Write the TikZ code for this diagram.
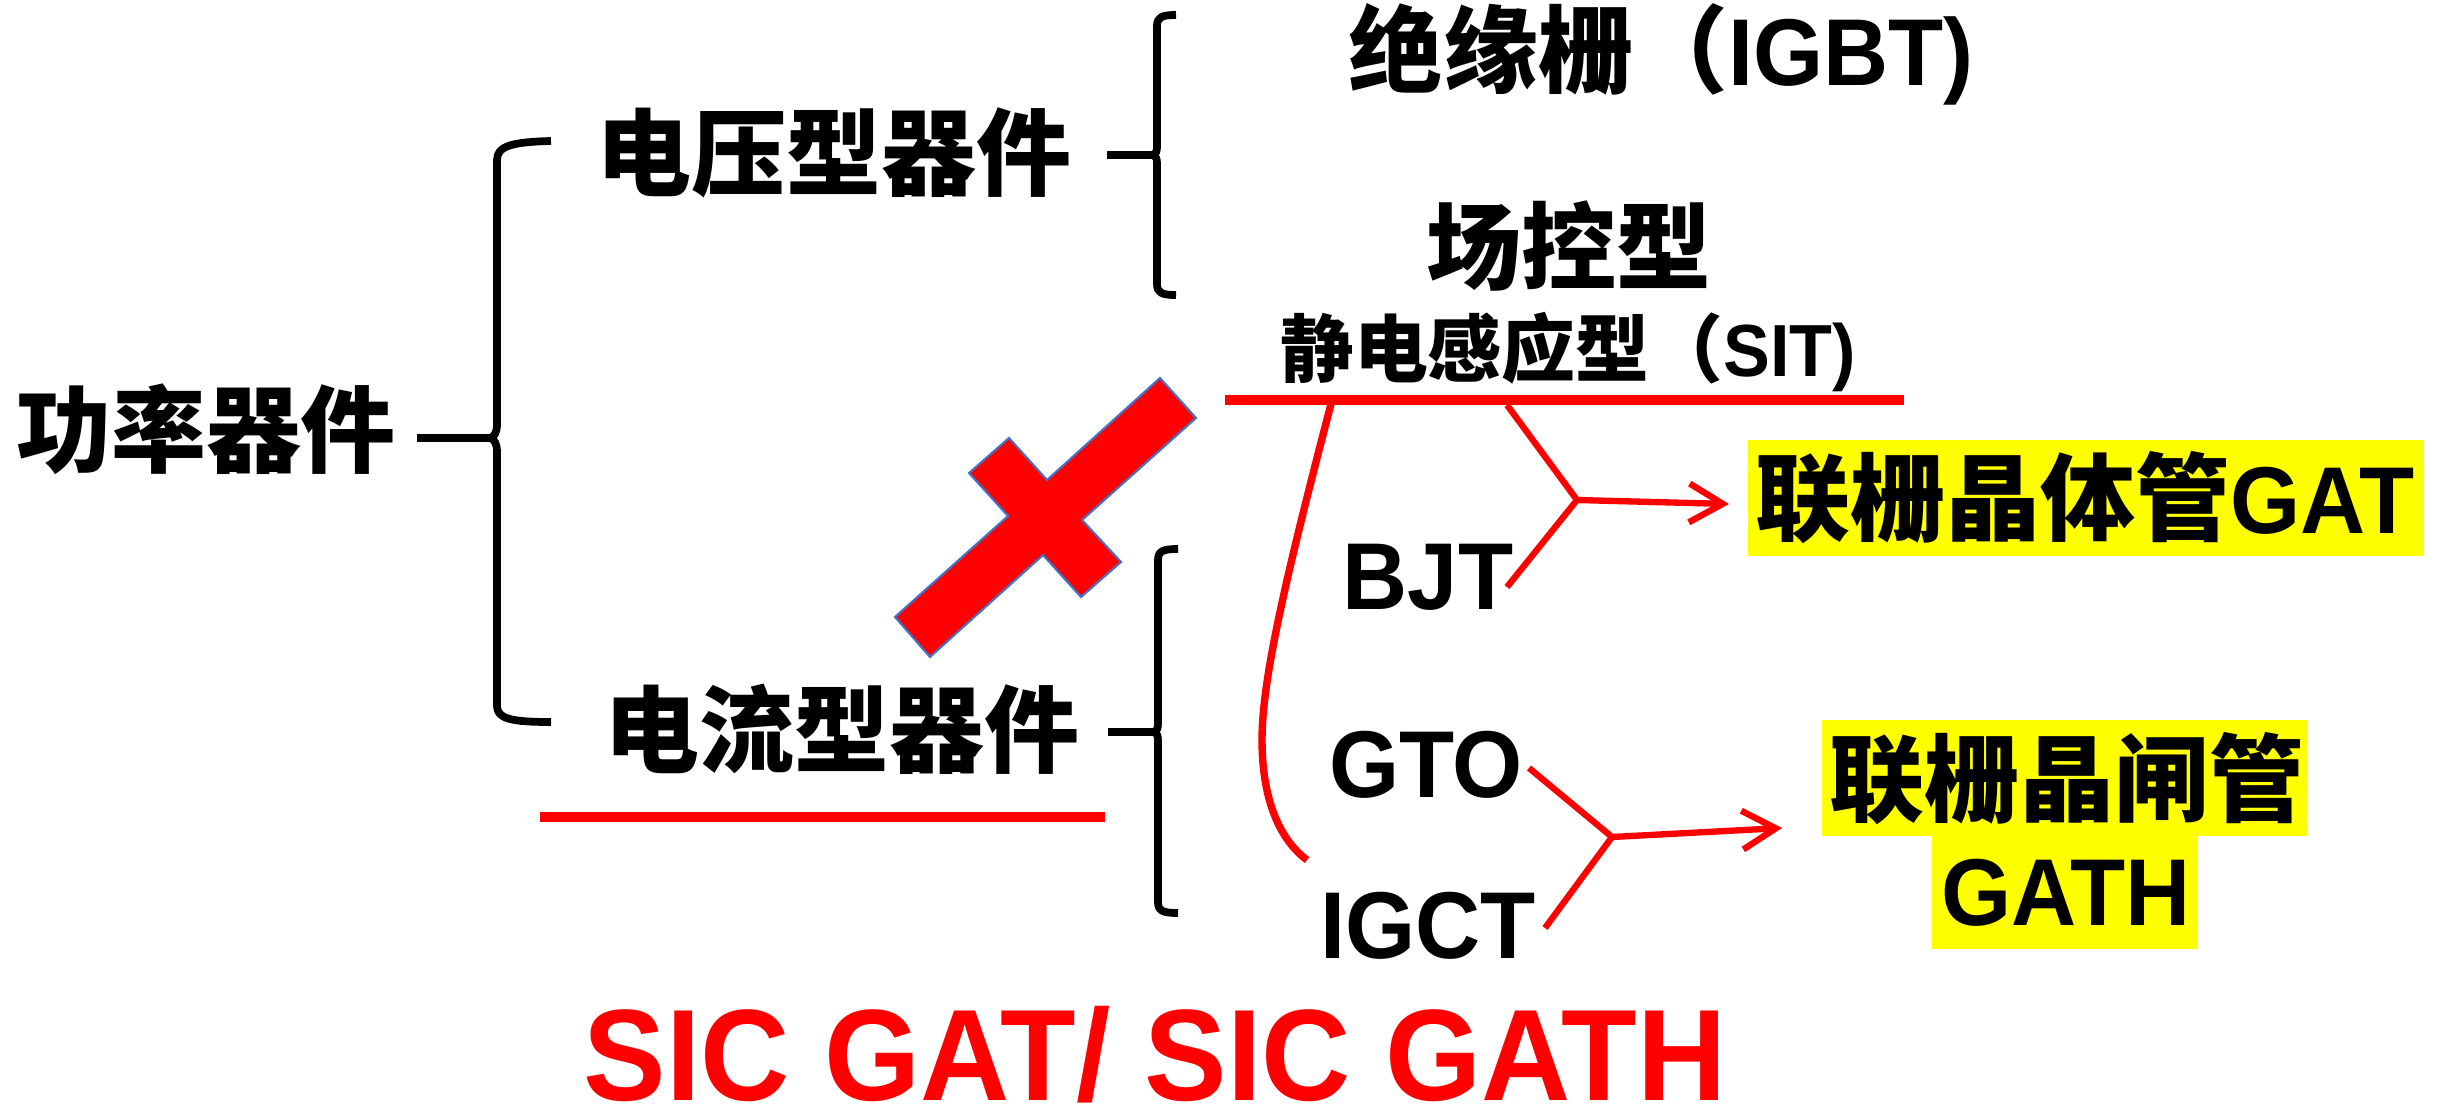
\documentclass[tikz,border=0pt]{standalone}
\usepackage{fontspec}
\usetikzlibrary{arrows.meta}
\newfontfamily\cjk{Noto Sans CJK SC}
\newfontfamily\lat{Liberation Sans}[FakeStretch=0.95]
\definecolor{xred}{RGB}{255,0,0}
\definecolor{xyel}{RGB}{255,255,0}
\definecolor{xblue}{RGB}{68,114,196}
\tikzset{
  txt/.style={inner sep=0pt, anchor=base, font=\fontsize{27}{30}\selectfont\bfseries},
  smalltxt/.style={inner sep=0pt, anchor=base, font=\fontsize{21}{24}\selectfont\bfseries},
  bigred/.style={inner sep=0pt, anchor=base, text=xred, font=\fontsize{37}{40}\selectfont\bfseries},
  brace/.style={draw=black, line width=2.2pt, line join=round},
  redthick/.style={draw=xred, line width=2.85pt},
  redthin/.style={draw=xred, line width=2.1pt},
  redarrow/.style={draw=xred, line width=1.8pt},
  hl/.style={fill=xyel, inner sep=0pt},
  crossshape/.style={fill=xred, draw=xblue, line width=0.6pt, line join=miter}
}
\begin{document}
\begin{tikzpicture}[x=0.01cm, y=-0.01cm]
\useasboundingbox (0,0) rectangle (2442,1112);

% highlight boxes
\node[hl, minimum width=6.76cm, minimum height=1.16cm] (gatbox) at (2086,498) {};
\node[hl, minimum width=4.85cm, minimum height=1.16cm] (gathbox1) at (2064.5,778) {};
\node[hl, minimum width=2.66cm, minimum height=1.14cm] (gathbox2) at (2065,892) {};

% texts
\node[txt] (power) at (206,465) {\cjk 功率器件};
\node[txt] (volt) at (834,188) {\cjk 电压型器件};
\node[txt] (igbt) at (1661,85) {{\cjk 绝缘栅（}{\lat IGBT)}};
\node[txt] (field) at (1569,282) {\cjk 场控型};
\node[smalltxt] (sit) at (1568,376) {{\cjk 静电感应型（}{\lat SIT)}};
\node[txt] (curr) at (842,765) {\cjk 电流型器件};
\node[txt] (bjt) at (1428,609) {\lat BJT};
\node[txt] (gto) at (1426,797) {\lat GTO};
\node[txt] (igct) at (1428,958) {\lat IGCT};
\node[txt] (gat) at (2085,533) {{\cjk 联栅晶体管}{\lat GAT}};
\node[txt] (gath1) at (2067,814) {\cjk 联栅晶闸管};
\node[txt] (gath2) at (2066,925) {\lat GATH};
\node[bigred] (sic) at (1155,1100) {\lat SIC GAT/ SIC GATH};

% brace 1
\coordinate (b1s) at (417,438);
\coordinate (b1t) at (490,438);
\draw[brace] (551,141) .. controls (512,142) and (497,146) .. (497,160) -- (497,424)
  .. controls (497,433) and (494,437) .. (b1t) .. controls (494,439) and (497,443) .. (497,452)
  -- (497,706) .. controls (497,719) and (512,722) .. (551,722);
\draw[brace] (b1s) -- (b1t);

% brace 2
\coordinate (b2s) at (1107,155);
\coordinate (b2t) at (1153,155);
\draw[brace] (1176,15) .. controls (1162,15) and (1157,17) .. (1157,26) -- (1157,146)
  .. controls (1157,152) and (1156,154) .. (b2t) .. controls (1156,156) and (1157,158) .. (1157,164)
  -- (1157,284) .. controls (1157,293) and (1162,295) .. (1176,295);
\draw[brace] (b2s) -- (b2t);

% brace 3
\coordinate (b3s) at (1108,732);
\coordinate (b3t) at (1154,732);
\draw[brace] (1178,549) .. controls (1163,549) and (1158,551) .. (1158,560) -- (1158,723)
  .. controls (1158,729) and (1157,731) .. (b3t) .. controls (1157,733) and (1158,735) .. (1158,741)
  -- (1158,902) .. controls (1158,911) and (1163,913) .. (1178,913);
\draw[brace] (b3s) -- (b3t);

% red underlines
\coordinate (sitL) at (1225,400);
\coordinate (sitR) at (1904,400);
\draw[redthick] (sitL) -- (sitR);
\coordinate (curL) at (540,817);
\coordinate (curR) at (1105,817);
\draw[redthick] (curL) -- (curR);

% red curve
\coordinate (cv1) at (1331,404);
\coordinate (cv2) at (1262,740);
\coordinate (cv3) at (1307,860);
\draw[redthin] (cv1) .. controls (1285,580) and (1262,680) .. (cv2)
  .. controls (1262,800) and (1280,840) .. (cv3);

% GAT arrows
\coordinate (sitA) at (1507,405);
\coordinate (bjtA) at (1507,587);
\coordinate (j1) at (1577,500);
\coordinate (gatTip) at (1729,504);
\draw[redarrow, line join=round] (sitA) -- (j1) -- (bjtA);
\draw[redarrow, -{Straight Barb[length=9.5pt,width=11pt]}] (j1) -- (gatTip);

% GATH arrows
\coordinate (gtoA) at (1529,768);
\coordinate (igctA) at (1545,928);
\coordinate (j2) at (1612,837);
\coordinate (gathTip) at (1782,828);
\draw[redarrow, line join=round] (gtoA) -- (j2) -- (igctA);
\draw[redarrow, -{Straight Barb[length=9.5pt,width=11pt]}] (j2) -- (gathTip);

% red cross
\filldraw[crossshape] (1160,378) -- (1196,418) -- (1082,520) -- (1121,562) -- (1081,597)
  -- (1043,555) -- (930,657) -- (895,617) -- (1008,516) -- (969,473) -- (1009,438)
  -- (1047,480) -- cycle;
\end{tikzpicture}
\end{document}
